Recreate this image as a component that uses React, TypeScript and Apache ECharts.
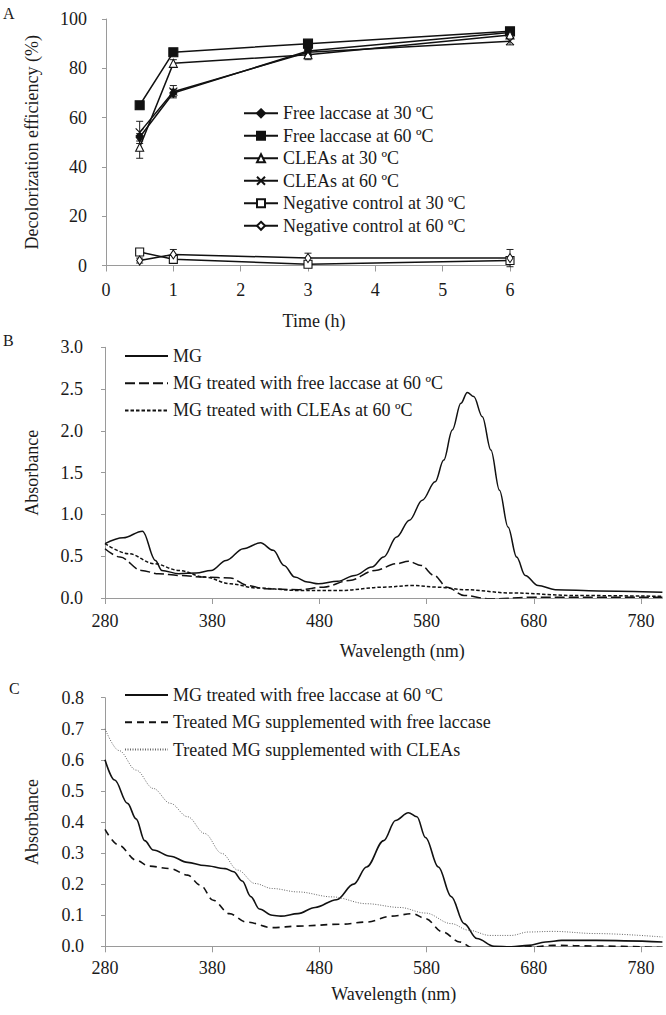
import React, { useEffect, useRef } from "react";
import * as echarts from "echarts";

// ---------- Panel A data ----------
const timeH = [0.5, 1, 3, 6];
const freeLac30 = [52, 70, 87, 94.5];
const freeLac60 = [65, 86.5, 90, 95];
const cleas30 = [48, 82, 85.5, 93.5];
const cleas60 = [54, 70.5, 86.5, 91];
const negCtrl30 = [5.5, 2.5, 0.5, 2];
const negCtrl60 = [2, 4.5, 3, 3];
const freeLac30Err = [1.5, 1.5, 1, 1];
const freeLac60Err = [1.5, 1, 1, 1];
const cleas30Err = [4.5, 1.5, 2, 1];
const cleas60Err = [4.5, 2.5, 1, 1.5];
const negCtrl30Err = [1, 1.5, 1, 1];
const negCtrl60Err = [1, 2, 2, 3.5];
const namesA = [
  "Free laccase at 30 ºC",
  "Free laccase at 60 ºC",
  "CLEAs at 30 ºC",
  "CLEAs at 60 ºC",
  "Negative control at 30 ºC",
  "Negative control at 60 ºC",
];

// ---------- Panel B data ----------
const mgWl = [280, 297, 315, 327, 333, 349, 365, 379, 393, 409, 425, 437, 447, 457, 469, 479, 497, 513, 529, 540, 552, 564, 576, 588, 596, 604, 612, 618, 624, 632, 640, 648, 656, 664, 672, 684, 700, 740, 800];
const mgAbs = [0.65, 0.72, 0.8, 0.45, 0.33, 0.29, 0.3, 0.33, 0.45, 0.59, 0.66, 0.57, 0.39, 0.25, 0.19, 0.17, 0.2, 0.27, 0.37, 0.49, 0.73, 0.93, 1.17, 1.39, 1.65, 2.01, 2.33, 2.46, 2.41, 2.17, 1.77, 1.29, 0.85, 0.49, 0.27, 0.15, 0.1, 0.085, 0.07];
const mgFreeWl = [280, 294, 314, 330, 349, 373, 397, 413, 429, 461, 484, 508, 532, 552, 563, 575, 587, 599, 615, 639, 679, 800];
const mgFreeAbs = [0.59, 0.49, 0.33, 0.29, 0.27, 0.25, 0.24, 0.15, 0.11, 0.1, 0.13, 0.21, 0.33, 0.41, 0.44, 0.39, 0.27, 0.13, 0.03, -0.01, 0.01, 0.01];
const mgCleasWl = [280, 302, 326, 349, 373, 397, 421, 461, 500, 540, 567, 591, 615, 659, 718, 800];
const mgCleasAbs = [0.65, 0.53, 0.41, 0.33, 0.25, 0.17, 0.12, 0.09, 0.09, 0.13, 0.15, 0.13, 0.1, 0.06, 0.03, 0.02];
const namesB = ["MG", "MG treated with free laccase at 60 ºC", "MG treated with CLEAs at 60 ºC"];

// ---------- Panel C data ----------
const tFreeWl = [280, 289, 301, 309, 317, 325, 341, 357, 373, 392, 400, 408, 416, 424, 436, 444, 460, 476, 496, 512, 524, 540, 551, 563, 571, 579, 591, 603, 615, 627, 643, 659, 675, 691, 706, 738, 800];
const tFreeAbs = [0.6, 0.535, 0.46, 0.41, 0.34, 0.31, 0.29, 0.27, 0.26, 0.25, 0.24, 0.21, 0.16, 0.12, 0.1, 0.097, 0.105, 0.125, 0.15, 0.2, 0.255, 0.34, 0.405, 0.43, 0.417, 0.35, 0.255, 0.16, 0.073, 0.025, 0.0, -0.002, 0.003, 0.014, 0.019, 0.019, 0.014];
const suppFreeWl = [280, 293, 309, 321, 341, 357, 369, 381, 396, 412, 436, 460, 500, 524, 547, 567, 579, 595, 611, 623, 651, 679, 698, 738, 800];
const suppFreeAbs = [0.376, 0.325, 0.277, 0.258, 0.25, 0.229, 0.197, 0.148, 0.105, 0.078, 0.06, 0.065, 0.071, 0.078, 0.097, 0.105, 0.089, 0.046, 0.014, -0.005, -0.004, -0.002, 0.003, 0.001, -0.004];
const suppCleasWl = [280, 293, 309, 325, 341, 357, 373, 389, 404, 420, 436, 460, 492, 524, 555, 579, 603, 619, 639, 659, 675, 698, 738, 800];
const suppCleasAbs = [0.7, 0.63, 0.567, 0.508, 0.46, 0.417, 0.363, 0.299, 0.245, 0.202, 0.186, 0.175, 0.159, 0.137, 0.125, 0.107, 0.073, 0.052, 0.035, 0.035, 0.046, 0.048, 0.041, 0.03];
const namesC = ["MG treated with free laccase at 60 ºC ", "Treated MG supplemented with free laccase", "Treated MG supplemented with CLEAs"];

const wlTicks = [280, 380, 480, 580, 680, 780];

const FONT = "Liberation Serif";
const TXT = "#1a1a1a";
const AXC = "#9a9a9a";

const zip = (xs: number[], ys: number[]) => xs.map((x, i) => [x, ys[i]]);

export default function App() {
  const ref = useRef<HTMLDivElement>(null);
  useEffect(() => {
    if (!ref.current) return;
    const chart = echarts.init(ref.current, null, { renderer: "svg" });

    const errRows: number[][] = [];
    const addErr = (vals: number[], errs: number[]) =>
      vals.forEach((v, i) => errRows.push([timeH[i], v - errs[i], v + errs[i]]));
    addErr(freeLac30, freeLac30Err);
    addErr(freeLac60, freeLac60Err);
    addErr(cleas30, cleas30Err);
    addErr(cleas60, cleas60Err);
    addErr(negCtrl30, negCtrl30Err);
    addErr(negCtrl60, negCtrl60Err);

    const lineA = (name: string, vals: number[], symbol: string, size: any, fill: string) => ({
      type: "line",
      name,
      xAxisIndex: 0,
      yAxisIndex: 0,
      data: zip(timeH, vals),
      symbol,
      symbolSize: size,
      showAllSymbol: true,
      lineStyle: { color: "#111", width: 1.5 },
      itemStyle: { color: fill, borderColor: "#111", borderWidth: 1.1 },
      z: 3,
    });

    const lineS = (name: string, xi: number, data: number[][], type: any, width: number, color: string) => ({
      type: "line",
      name,
      xAxisIndex: xi,
      yAxisIndex: xi,
      data,
      symbol: "none",
      smooth: 0.35,
      smoothMonotone: "x",
      lineStyle: { color, width, type },
      itemStyle: { color },
    });

    const nameStyle = { fontFamily: FONT, fontSize: 18, color: TXT };
    const axisCommon = {
      axisLine: { show: true, lineStyle: { color: AXC, width: 1 } },
      splitLine: { show: false },
    };
    const lbl = (margin: number, dec: number | null) => ({
      fontFamily: FONT,
      fontSize: 18,
      color: TXT,
      margin,
      formatter: (v: number) => (dec === null ? String(v) : v.toFixed(dec)),
    });

    const legendCommon = {
      orient: "vertical",
      padding: 0,
      itemHeight: 10,
      textStyle: { fontFamily: FONT, fontSize: 18, color: TXT, lineHeight: 18 },
      inactiveColor: "#ccc",
    };
    const legendNoSym = { itemStyle: { color: "rgba(0,0,0,0)", borderWidth: 0 } };

    chart.setOption({
      animation: false,
      backgroundColor: "#fff",
      textStyle: { fontFamily: FONT, color: TXT },
      grid: [
        { left: 106, top: 19, width: 404, height: 246.5 },
        { left: 105, top: 347.3, width: 557.4, height: 250.7 },
        { left: 105, top: 697.7, width: 557.4, height: 248.6 },
      ],
      xAxis: [
        {
          ...axisCommon,
          gridIndex: 0,
          type: "value",
          min: 0,
          max: 6,
          interval: 1,
          name: "Time (h)",
          nameLocation: "middle",
          nameGap: 46,
          nameTextStyle: { ...nameStyle, padding: [0, 0, 0, 12] },
          axisTick: { show: true, length: 6, lineStyle: { color: AXC } },
          axisLabel: lbl(15, null),
        },
        {
          ...axisCommon,
          gridIndex: 1,
          type: "value",
          min: 280,
          max: 800,
          name: "Wavelength (nm)",
          nameLocation: "middle",
          nameGap: 44,
          nameTextStyle: { ...nameStyle, padding: [0, 0, 0, 37] },
          axisTick: { show: true, length: 6, lineStyle: { color: AXC }, customValues: wlTicks },
          axisLabel: { ...lbl(14, null), customValues: wlTicks },
        },
        {
          ...axisCommon,
          gridIndex: 2,
          type: "value",
          min: 280,
          max: 800,
          name: "Wavelength (nm)",
          nameLocation: "middle",
          nameGap: 39,
          nameTextStyle: { ...nameStyle, padding: [0, 0, 0, 20] },
          axisTick: { show: true, length: 6, lineStyle: { color: AXC }, customValues: wlTicks },
          axisLabel: { ...lbl(13, null), customValues: wlTicks },
        },
      ],
      yAxis: [
        {
          ...axisCommon,
          gridIndex: 0,
          type: "value",
          min: 0,
          max: 100,
          interval: 20,
          name: "Decolorization efficiency (%)",
          nameLocation: "middle",
          nameGap: 65,
          nameTextStyle: nameStyle,
          axisTick: { show: true, length: 4, lineStyle: { color: AXC } },
          axisLabel: lbl(19, null),
        },
        {
          ...axisCommon,
          gridIndex: 1,
          type: "value",
          min: 0,
          max: 3,
          interval: 0.5,
          name: "Absorbance",
          nameLocation: "middle",
          nameGap: 64,
          nameTextStyle: nameStyle,
          axisTick: { show: true, length: 4, lineStyle: { color: AXC } },
          axisLabel: lbl(22, 1),
        },
        {
          ...axisCommon,
          gridIndex: 2,
          type: "value",
          min: 0,
          max: 0.8,
          interval: 0.1,
          name: "Absorbance",
          nameLocation: "middle",
          nameGap: 64,
          nameTextStyle: nameStyle,
          axisTick: { show: true, length: 4, lineStyle: { color: AXC } },
          axisLabel: lbl(21, 1),
        },
      ],
      legend: [
        { ...legendCommon, left: 243, top: 104.3, itemWidth: 34, itemGap: 4.5, data: namesA },
        { ...legendCommon, ...legendNoSym, left: 124, top: 347, itemWidth: 43, itemGap: 9.2, data: namesB },
        { ...legendCommon, ...legendNoSym, left: 124, top: 686, itemWidth: 43, itemGap: 9.3, data: namesC },
      ],
      graphic: [
        { type: "text", left: 3, top: 5, style: { text: "A", fontFamily: FONT, fontSize: 16, fill: TXT } },
        { type: "text", left: 3, top: 332, style: { text: "B", fontFamily: FONT, fontSize: 16, fill: TXT } },
        { type: "text", left: 9, top: 680, style: { text: "C", fontFamily: FONT, fontSize: 16, fill: TXT } },
      ],
      series: [
        {
          type: "custom",
          name: "errorbars",
          xAxisIndex: 0,
          yAxisIndex: 0,
          data: errRows,
          encode: { x: 0, y: [1, 2] },
          z: 2,
          renderItem: (params: any, api: any) => {
            const x = api.value(0);
            const p1 = api.coord([x, api.value(2)]);
            const p2 = api.coord([x, api.value(1)]);
            const w = 3.5;
            const st = { stroke: "#222", lineWidth: 1 };
            return {
              type: "group",
              children: [
                { type: "line", shape: { x1: p1[0], y1: p1[1], x2: p2[0], y2: p2[1] }, style: st },
                { type: "line", shape: { x1: p1[0] - w, y1: p1[1], x2: p1[0] + w, y2: p1[1] }, style: st },
                { type: "line", shape: { x1: p2[0] - w, y1: p2[1], x2: p2[0] + w, y2: p2[1] }, style: st },
              ],
            };
          },
        },
        lineA(namesA[0], freeLac30, "diamond", [7, 9], "#111"),
        lineA(namesA[1], freeLac60, "rect", 9, "#111"),
        lineA(namesA[2], cleas30, "triangle", 8, "#fff"),
        lineA(namesA[3], cleas60, "path://M0,0L10,10M10,0L0,10", 8, "#111"),
        lineA(namesA[4], negCtrl30, "rect", 8, "#fff"),
        lineA(namesA[5], negCtrl60, "diamond", [6, 9], "#fff"),

        lineS(namesB[0], 1, zip(mgWl, mgAbs), "solid", 1.5, "#111"),
        lineS(namesB[1], 1, zip(mgFreeWl, mgFreeAbs), [10, 4], 1.5, "#111"),
        lineS(namesB[2], 1, zip(mgCleasWl, mgCleasAbs), [3.5, 2], 1.5, "#111"),

        lineS(namesC[0], 2, zip(tFreeWl, tFreeAbs), "solid", 1.6, "#111"),
        lineS(namesC[1], 2, zip(suppFreeWl, suppFreeAbs), [7, 5], 1.6, "#111"),
        lineS(namesC[2], 2, zip(suppCleasWl, suppCleasAbs), [1, 1.5], 1, "#666"),
      ],
    });
    return () => chart.dispose();
  }, []);
  return <div ref={ref} style={{ position: "absolute", left: 0, top: 0, width: 666, height: 1015 }} />;
}
